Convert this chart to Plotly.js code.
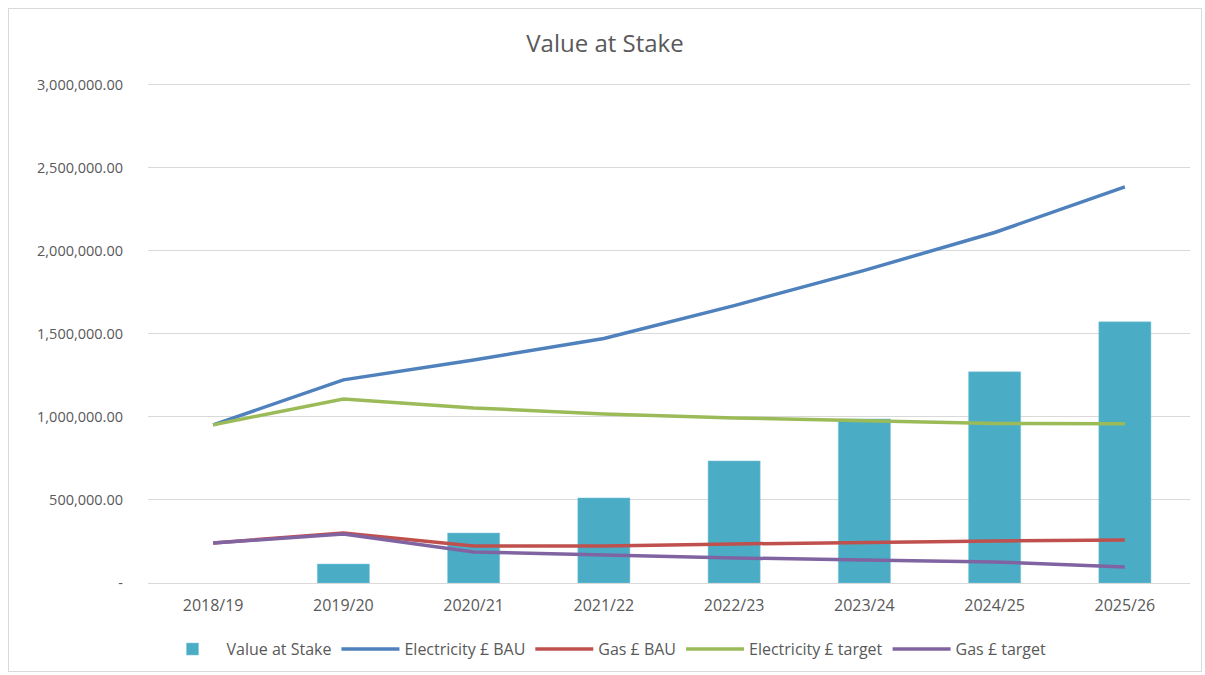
<!DOCTYPE html>
<html>
<head>
<meta charset="utf-8">
<script src="https://cdn.plot.ly/plotly-3.0.1.min.js"></script>
<style>
  html, body { margin: 0; padding: 0; background: #ffffff; }
  #chart { position: absolute; left: 8px; top: 8px; width: 1192px; height: 662px; border: 1px solid #d9d9d9; }
</style>
</head>
<body>
<div id="chart"></div>
<script>
const categories = ["2018/19", "2019/20", "2020/21", "2021/22", "2022/23", "2023/24", "2024/25", "2025/26"];
const valueAtStake = [null, 114000, 301000, 512000, 735000, 988000, 1271000, 1572000];
const electricityBAU = [952000, 1223000, 1343000, 1472000, 1670000, 1882000, 2110000, 2385000];
const gasBAU = [241000, 301000, 223000, 223000, 235000, 245000, 253000, 259000];
const electricityTarget = [952000, 1108000, 1054000, 1018000, 994000, 976000, 960000, 958000];
const gasTarget = [241000, 295000, 187000, 169000, 151000, 139000, 127000, 96000];
const yTickVals = [0, 500000, 1000000, 1500000, 2000000, 2500000, 3000000];

function fmt(v) {
  if (v === 0) return "-";
  return v.toLocaleString("en-GB", { minimumFractionDigits: 2, maximumFractionDigits: 2 });
}
const yTickText = yTickVals.map(fmt);

const fontFam = "'Open Sans', 'Noto Sans', sans-serif";
const grey = "#595959";

const traces = [
  { type: "bar", name: "Value at Stake", x: categories, y: valueAtStake,
    marker: { color: "#4BACC6", line: { color: "#7cc6da", width: 0.5 } } },
  { type: "scatter", mode: "lines", name: "Electricity £ BAU", x: categories, y: electricityBAU,
    line: { color: "#4F81BD", width: 3.5 } },
  { type: "scatter", mode: "lines", name: "Gas £ BAU", x: categories, y: gasBAU,
    line: { color: "#C0504D", width: 3.5 } },
  { type: "scatter", mode: "lines", name: "Electricity £ target", x: categories, y: electricityTarget,
    line: { color: "#9BBB59", width: 3.5 } },
  { type: "scatter", mode: "lines", name: "Gas £ target", x: categories, y: gasTarget,
    line: { color: "#8064A2", width: 3.5 } }
];

const layout = {
  width: 1192, height: 662,
  margin: { l: 139, r: 11, t: 74, b: 88 },
  paper_bgcolor: "#ffffff",
  plot_bgcolor: "#ffffff",
  title: { text: "Value at Stake", x: 0.5, xanchor: "center", y: 0.947, yanchor: "middle",
           font: { family: fontFam, size: 24, color: grey } },
  font: { family: fontFam, size: 14, color: grey },
  bargap: 0.6,
  showlegend: true,
  legend: { orientation: "h", x: 0.5, xanchor: "center", xref: "container",
            y: 0.033, yanchor: "middle", yref: "container", itemwidth: 58,
            font: { family: fontFam, size: 16, color: grey }, traceorder: "normal" },
  xaxis: { type: "category", showgrid: false, showline: true, linecolor: "#d9d9d9", linewidth: 1,
           ticks: "", ticklabelstandoff: 8,
           tickfont: { family: fontFam, size: 16, color: grey }, fixedrange: true },
  yaxis: { range: [0, 3010000], tickvals: yTickVals, ticktext: yTickText, showgrid: true,
           gridcolor: "#d9d9d9", gridwidth: 1, zeroline: false, showline: false, ticks: "",
           ticklabelstandoff: 24,
           tickfont: { family: fontFam, size: 14.5, color: grey }, fixedrange: true }
};

Plotly.newPlot("chart", traces, layout, { displayModeBar: false, staticPlot: true });
</script>
</body>
</html>
